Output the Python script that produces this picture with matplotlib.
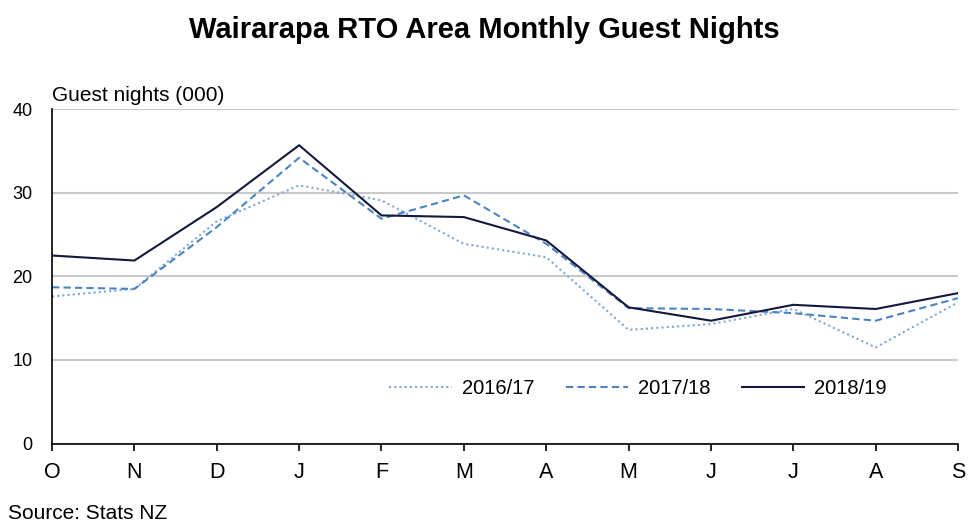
import matplotlib.pyplot as plt

plt.rcParams['font.family'] = ['Liberation Sans', 'DejaVu Sans']

# 月份（10月到9月）
months = ['O', 'N', 'D', 'J', 'F', 'M', 'A', 'M', 'J', 'J', 'A', 'S']

# Guest nights (000)
nights_2016_17 = [17.6, 18.5, 26.6, 30.9, 29.1, 23.9, 22.3, 13.6, 14.3, 16.1, 11.5, 16.9]
nights_2017_18 = [18.7, 18.5, 25.9, 34.2, 26.9, 29.7, 23.9, 16.2, 16.1, 15.6, 14.7, 17.4]
nights_2018_19 = [22.5, 21.9, 28.3, 35.7, 27.3, 27.1, 24.3, 16.3, 14.7, 16.6, 16.1, 18.0]

fig = plt.figure(figsize=(9.69, 5.23), dpi=100)
ax = fig.add_axes([0.0537, 0.152, 0.935, 0.639])

x = range(len(months))
ax.plot(x, nights_2016_17, color='#7ea6d6', linestyle=(0, (1, 1.5)), linewidth=1.5, label='2016/17')
ax.plot(x, nights_2017_18, color='#4a84c2', linestyle=(0, (3.5, 2)), linewidth=1.5, label='2017/18')
ax.plot(x, nights_2018_19, color='#14183c', linestyle='-', linewidth=1.5, label='2018/19')

ax.set_xlim(0, len(months) - 1)
ax.set_ylim(0, 40)
ax.set_yticks([0, 10, 20, 30, 40])
ax.set_xticks(list(x))
ax.set_xticklabels(months)
ax.tick_params(axis='y', length=0, labelsize=13, pad=14)
ax.tick_params(axis='x', direction='out', length=5, width=1.2, labelsize=15.5, pad=8)

ax.grid(axis='y', color='#c8c8c8', linewidth=1.5)
ax.set_axisbelow(True)
for s in ['top', 'right']:
    ax.spines[s].set_visible(False)
for s in ['left', 'bottom']:
    ax.spines[s].set_linewidth(1.2)
    ax.spines[s].set_color('black')

ax.legend(loc='center', bbox_to_anchor=(0.647, 0.165), ncol=3, frameon=False,
          fontsize=14.5, handlelength=3.1, columnspacing=1.55, handletextpad=0.5)

fig.text(0.5, 0.943, 'Wairarapa RTO Area Monthly Guest Nights', ha='center', va='center',
         fontsize=21, fontweight='bold')
fig.text(0.0537, 0.818, 'Guest nights (000)', ha='left', va='center', fontsize=15)
fig.text(0.008, 0.019, 'Source: Stats NZ', ha='left', va='center', fontsize=15)

fig.savefig('out.png', dpi=100)
